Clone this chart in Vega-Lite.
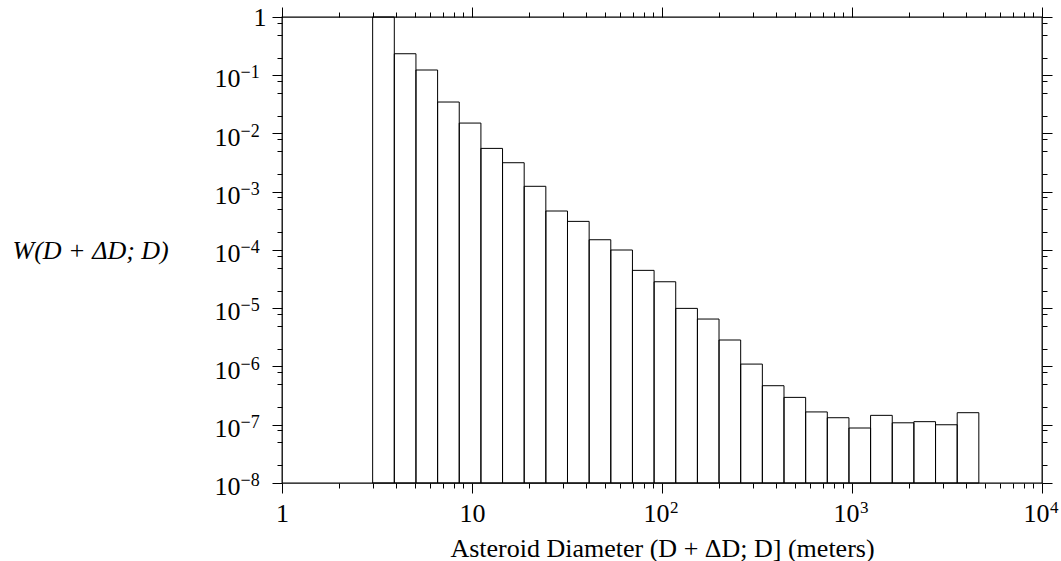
{
  "$schema": "https://vega.github.io/schema/vega-lite/v6.json",
  "width": 760,
  "height": 466,
  "autosize": "none",
  "padding": {"left": 282, "top": 17, "right": 19, "bottom": 78},
  "background": "white",
  "data": {
    "values": [
      {"lo": 3, "hi": 3.9, "w": 1},
      {"lo": 3.9, "hi": 5.07, "w": 0.234},
      {"lo": 5.07, "hi": 6.591, "w": 0.123},
      {"lo": 6.591, "hi": 8.568, "w": 0.0347},
      {"lo": 8.568, "hi": 11.14, "w": 0.0151},
      {"lo": 11.14, "hi": 14.48, "w": 0.00555},
      {"lo": 14.48, "hi": 18.82, "w": 0.00315},
      {"lo": 18.82, "hi": 24.47, "w": 0.00124},
      {"lo": 24.47, "hi": 31.81, "w": 0.000467},
      {"lo": 31.81, "hi": 41.36, "w": 0.00031},
      {"lo": 41.36, "hi": 53.76, "w": 0.00015},
      {"lo": 53.76, "hi": 69.89, "w": 0.0001},
      {"lo": 69.89, "hi": 90.86, "w": 0.0000447},
      {"lo": 90.86, "hi": 118.1, "w": 0.0000285},
      {"lo": 118.1, "hi": 153.6, "w": 0.00000995},
      {"lo": 153.6, "hi": 199.6, "w": 0.00000653},
      {"lo": 199.6, "hi": 259.5, "w": 0.00000285},
      {"lo": 259.5, "hi": 337.4, "w": 0.0000011},
      {"lo": 337.4, "hi": 438.6, "w": 0.000000468},
      {"lo": 438.6, "hi": 570.2, "w": 0.000000295},
      {"lo": 570.2, "hi": 741.2, "w": 0.000000166},
      {"lo": 741.2, "hi": 963.6, "w": 0.000000132},
      {"lo": 963.6, "hi": 1252.7, "w": 0.0000000879},
      {"lo": 1252.7, "hi": 1628.5, "w": 0.000000145},
      {"lo": 1628.5, "hi": 2117, "w": 0.000000108},
      {"lo": 2117, "hi": 2752, "w": 0.000000113},
      {"lo": 2752, "hi": 3578, "w": 0.0000001},
      {"lo": 3578, "hi": 4651, "w": 0.000000161}
    ]
  },
  "layer": [
    {
      "mark": {"type": "rect", "fill": "white", "fillOpacity": 0, "stroke": "black", "strokeWidth": 1},
      "encoding": {
        "x": {"field": "lo", "type": "quantitative",
          "scale": {"type": "log", "domain": [1, 10000], "nice": false},
          "axis": {"orient": "bottom", "values": [1, 10, 100, 1000, 10000], "labels": false, "ticks": true, "tickColor": "black", "tickSize": 10, "title": null}},
        "x2": {"field": "hi"},
        "y": {"field": "w", "type": "quantitative",
          "scale": {"type": "log", "domain": [1e-8, 1], "nice": false},
          "axis": {"orient": "left", "values": [1e-8, 1e-7, 1e-6, 1e-5, 1e-4, 1e-3, 1e-2, 1e-1, 1], "labels": false, "ticks": true, "tickColor": "black", "tickSize": 10, "title": null}},
        "y2": {"datum": 1e-8}
      }
    },
    {
      "mark": {"type": "rect", "opacity": 0},
      "encoding": {
        "x": {"field": "lo", "type": "quantitative",
          "axis": {"orient": "bottom", "values": [2, 3, 4, 5, 6, 7, 8, 9, 20, 30, 40, 50, 60, 70, 80, 90, 200, 300, 400, 500, 600, 700, 800, 900, 2000, 3000, 4000, 5000, 6000, 7000, 8000, 9000],
            "labels": false, "ticks": true, "tickColor": "black", "tickSize": 5, "title": null}},
        "x2": {"field": "hi"},
        "y": {"field": "w", "type": "quantitative",
          "axis": {"orient": "left", "values": [2e-8, 5e-8, 8e-8, 2e-7, 5e-7, 8e-7, 2e-6, 5e-6, 8e-6, 2e-5, 5e-5, 8e-5, 2e-4, 5e-4, 8e-4, 2e-3, 5e-3, 8e-3, 2e-2, 5e-2, 8e-2, 0.2, 0.5, 0.8],
            "labels": false, "ticks": true, "tickColor": "black", "tickSize": 5, "title": null}},
        "y2": {"datum": 1e-8}
      }
    },
    {
      "mark": {"type": "rect", "opacity": 0},
      "encoding": {
        "x": {"field": "lo", "type": "quantitative",
          "axis": {"orient": "top", "values": [1, 10, 100, 1000, 10000], "labels": false, "ticks": true, "tickColor": "black", "tickSize": 10, "title": null}},
        "x2": {"field": "hi"},
        "y": {"field": "w", "type": "quantitative",
          "axis": {"orient": "right", "values": [1e-8, 1e-7, 1e-6, 1e-5, 1e-4, 1e-3, 1e-2, 1e-1, 1], "labels": false, "ticks": true, "tickColor": "black", "tickSize": 10, "title": null}},
        "y2": {"datum": 1e-8}
      }
    },
    {
      "mark": {"type": "rect", "opacity": 0},
      "encoding": {
        "x": {"field": "lo", "type": "quantitative",
          "axis": {"orient": "top", "values": [2, 3, 4, 5, 6, 7, 8, 9, 20, 30, 40, 50, 60, 70, 80, 90, 200, 300, 400, 500, 600, 700, 800, 900, 2000, 3000, 4000, 5000, 6000, 7000, 8000, 9000],
            "labels": false, "ticks": true, "tickColor": "black", "tickSize": 5, "title": null}},
        "x2": {"field": "hi"},
        "y": {"field": "w", "type": "quantitative",
          "axis": {"orient": "right", "values": [2e-8, 5e-8, 8e-8, 2e-7, 5e-7, 8e-7, 2e-6, 5e-6, 8e-6, 2e-5, 5e-5, 8e-5, 2e-4, 5e-4, 8e-4, 2e-3, 5e-3, 8e-3, 2e-2, 5e-2, 8e-2, 0.2, 0.5, 0.8],
            "labels": false, "ticks": true, "tickColor": "black", "tickSize": 5, "title": null}},
        "y2": {"datum": 1e-8}
      }
    },
    {
      "mark": {"type": "rect", "opacity": 0},
      "encoding": {
        "x": {"field": "lo", "type": "quantitative",
          "axis": {"orient": "bottom", "values": [1, 10], "labelExpr": "datum.value == 1 ? '1' : '10'",
            "tickOpacity": 0, "tickSize": 0, "labelPadding": 38, "labelBaseline": "alphabetic", "labelAlign": "center", "labelFlush": false,
            "title": "Asteroid Diameter (D + ΔD; D] (meters)", "titleX": 380, "titleY": 73,
            "titleAlign": "center", "titleBaseline": "alphabetic"}},
        "x2": {"field": "hi"},
        "y": {"field": "w", "type": "quantitative",
          "axis": {"orient": "left", "values": [1], "labelExpr": "'1'",
            "tickOpacity": 0, "tickSize": 0, "labelPadding": 16, "labelAlign": "right", "labelBaseline": "alphabetic", "labelOffset": 8.5, "labelFlush": false,
            "title": "W(D + ΔD; D)", "titleAngle": 0, "titleX": -270, "titleY": 241,
            "titleAlign": "left", "titleBaseline": "alphabetic", "titleFontStyle": "italic"}},
        "y2": {"datum": 1e-8}
      }
    },
    {
      "mark": {"type": "rect", "opacity": 0},
      "encoding": {
        "x": {"field": "lo", "type": "quantitative",
          "axis": {"orient": "bottom", "values": [100, 1000, 10000], "labelExpr": "'10'",
            "tickOpacity": 0, "tickSize": 0, "labelPadding": 38, "labelBaseline": "alphabetic", "labelAlign": "center", "labelFlush": false,
            "labelOffset": -6, "title": null}},
        "x2": {"field": "hi"},
        "y": {"field": "w", "type": "quantitative",
          "axis": {"orient": "left", "values": [1e-8, 1e-7, 1e-6, 1e-5, 1e-4, 1e-3, 1e-2, 1e-1], "labelExpr": "'10'",
            "tickOpacity": 0, "tickSize": 0, "labelPadding": 42, "labelAlign": "right", "labelBaseline": "alphabetic", "labelFlush": false,
            "labelOffset": 11.6, "title": null}},
        "y2": {"datum": 1e-8}
      }
    },
    {
      "mark": {"type": "rect", "opacity": 0},
      "encoding": {
        "x": {"field": "lo", "type": "quantitative",
          "axis": {"orient": "bottom", "values": [100, 1000, 10000],
            "labelExpr": "datum.value == 100 ? '2' : datum.value == 1000 ? '3' : '4'",
            "tickOpacity": 0, "tickSize": 0, "labelPadding": 29, "labelBaseline": "alphabetic", "labelAlign": "left", "labelFlush": false,
            "labelOffset": 7.5, "labelFontSize": 17, "title": null}},
        "x2": {"field": "hi"},
        "y": {"field": "w", "type": "quantitative",
          "axis": {"orient": "left", "values": [1e-8, 1e-7, 1e-6, 1e-5, 1e-4, 1e-3, 1e-2, 1e-1],
            "labelExpr": "'−' + round(-log(datum.value) / LN10)",
            "tickOpacity": 0, "tickSize": 0, "labelPadding": 42, "labelAlign": "left", "labelBaseline": "alphabetic", "labelFlush": false,
            "labelOffset": 2.6, "labelFontSize": 18, "title": null}},
        "y2": {"datum": 1e-8}
      }
    }
  ],
  "resolve": {"axis": {"x": "independent", "y": "independent"}},
  "config": {
    "view": {"stroke": "black", "strokeWidth": 1.3},
    "axis": {
      "grid": false,
      "domain": false,
      "labelFont": "Liberation Serif",
      "labelFontSize": 26,
      "labelColor": "black",
      "titleFont": "Liberation Serif",
      "titleFontSize": 26,
      "titleFontWeight": "normal",
      "titleColor": "black"
    }
  }
}
